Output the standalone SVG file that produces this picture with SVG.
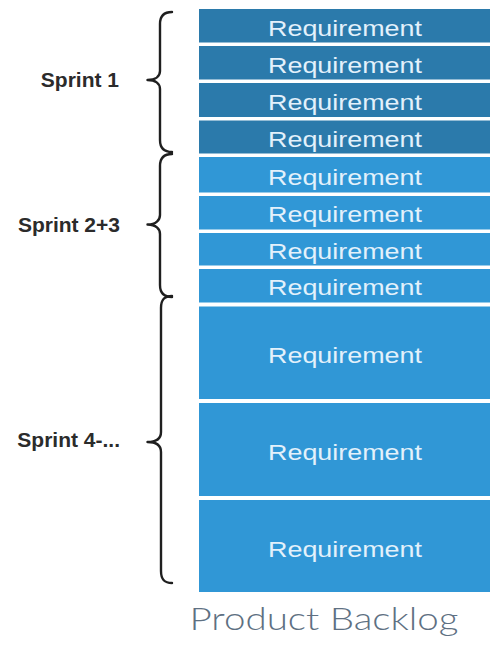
<svg xmlns="http://www.w3.org/2000/svg" width="492" height="661" viewBox="0 0 492 661">
  <style>
    .req { fill: #3097d6; }
    .req.s1 { fill: #2b7aab; }
    .req-label { font-family: "Liberation Sans", Arial, sans-serif; font-size: 22px; fill: #e3f1fb; text-anchor: middle; }
    .sprint { font-family: "Liberation Sans", Arial, sans-serif; font-size: 21px; font-weight: bold; fill: #2b2b2b; text-anchor: end; }
    .brace { fill: none; stroke: #1f1f1f; stroke-width: 2.4; stroke-linecap: round; stroke-linejoin: round; }
    .title { font-family: Lato, "Open Sans", sans-serif; font-weight: 300; font-size: 31px; fill: #5e7082; text-anchor: middle; }
  </style>
  <rect width="492" height="661" fill="#ffffff"/>

  <!-- Backlog items, highest priority at the top -->
  <g id="req-1"><rect class="req s1" x="199" y="9" width="291" height="33.5"/><text class="req-label" x="345" y="36" textLength="154" lengthAdjust="spacingAndGlyphs">Requirement</text></g>
  <g id="req-2"><rect class="req s1" x="199" y="46" width="291" height="33.5"/><text class="req-label" x="345" y="72.5" textLength="154" lengthAdjust="spacingAndGlyphs">Requirement</text></g>
  <g id="req-3"><rect class="req s1" x="199" y="83" width="291" height="34"/><text class="req-label" x="345" y="109.5" textLength="154" lengthAdjust="spacingAndGlyphs">Requirement</text></g>
  <g id="req-4"><rect class="req s1" x="199" y="120.5" width="291" height="33"/><text class="req-label" x="345" y="146.5" textLength="154" lengthAdjust="spacingAndGlyphs">Requirement</text></g>
  <g id="req-5"><rect class="req" x="199" y="157" width="291" height="35.5"/><text class="req-label" x="345" y="184.5" textLength="154" lengthAdjust="spacingAndGlyphs">Requirement</text></g>
  <g id="req-6"><rect class="req" x="199" y="196" width="291" height="33.5"/><text class="req-label" x="345" y="222" textLength="154" lengthAdjust="spacingAndGlyphs">Requirement</text></g>
  <g id="req-7"><rect class="req" x="199" y="233" width="291" height="32.5"/><text class="req-label" x="345" y="258.5" textLength="154" lengthAdjust="spacingAndGlyphs">Requirement</text></g>
  <g id="req-8"><rect class="req" x="199" y="269" width="291" height="33.5"/><text class="req-label" x="345" y="295" textLength="154" lengthAdjust="spacingAndGlyphs">Requirement</text></g>
  <g id="req-9"><rect class="req" x="199" y="306.5" width="291" height="92.5"/><text class="req-label" x="345" y="362.5" textLength="154" lengthAdjust="spacingAndGlyphs">Requirement</text></g>
  <g id="req-10"><rect class="req" x="199" y="403" width="291" height="93"/><text class="req-label" x="345" y="459.5" textLength="154" lengthAdjust="spacingAndGlyphs">Requirement</text></g>
  <g id="req-11"><rect class="req" x="199" y="500" width="291" height="92"/><text class="req-label" x="345" y="556.5" textLength="154" lengthAdjust="spacingAndGlyphs">Requirement</text></g>

  <!-- Sprint groupings: braces and labels -->
  <g id="connectors">
    <path class="brace" d="M172,12 C164,12 160,16 160,24 L160,71 C160,76 156,80 147.5,80 C156,80 160,84 160,89 L160,140 C160,148 164,152 172,152"/>
    <path class="brace" d="M172,154 C164,154 160,158 160,166 L160,215 C160,220 156,224.5 147.5,224.5 C156,224.5 160,229 160,234 L160,285 C160,293 164,297 172,297"/>
    <path class="brace" d="M172,296 C164,296 161,300 161,308 L161,432 C161,438 157,442 147.5,442 C157,442 161,446 161,452 L161,571 C161,579 164,583 172,583"/>
  </g>

  <g id="sprint-1"><text class="sprint" x="119" y="87">Sprint 1</text></g>
  <g id="sprint-2-3"><text class="sprint" x="120" y="231.5">Sprint 2+3</text></g>
  <g id="sprint-4"><text class="sprint" x="120" y="446.5">Sprint 4-...</text></g>

  <g id="backlog-title"><text class="title" x="324" y="630" textLength="269" lengthAdjust="spacingAndGlyphs">Product Backlog</text></g>
</svg>
